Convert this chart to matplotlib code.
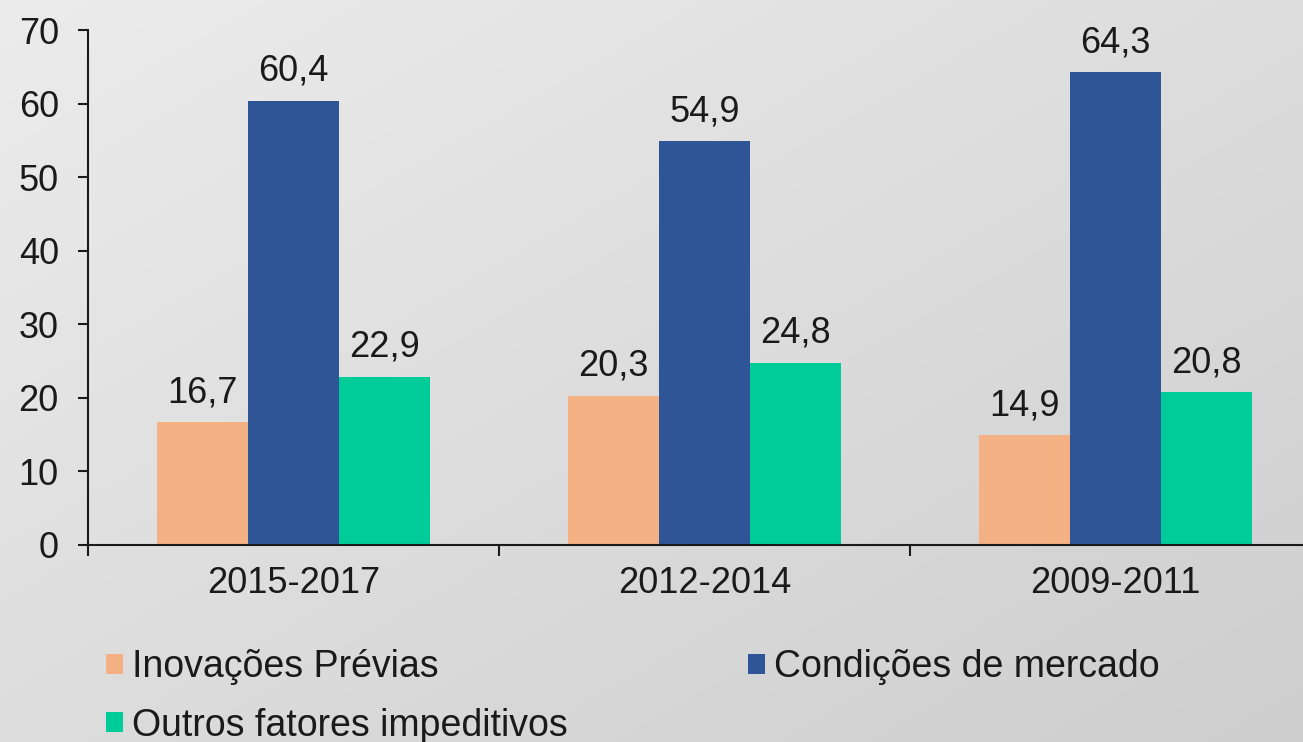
import numpy as np
import matplotlib.pyplot as plt
from matplotlib.patches import Patch
from matplotlib.colors import LinearSegmentedColormap

# data
periods = ['2015-2017', '2012-2014', '2009-2011']
series_names = ['Inovações Prévias', 'Condições de mercado', 'Outros fatores impeditivos']
inovacoes = [16.7, 20.3, 14.9]
condicoes = [60.4, 54.9, 64.3]
outros = [22.9, 24.8, 20.8]
y_ticks = [0, 10, 20, 30, 40, 50, 60, 70]

colors = ['#F4B183', '#2F5597', '#00CC99']
txt_color = '#1a1a1a'

plt.rcParams['font.family'] = ['Liberation Sans', 'DejaVu Sans']

fig = plt.figure(figsize=(13.03, 7.42), dpi=100)

# light grey diagonal gradient background
bg = fig.add_axes([0, 0, 1, 1], zorder=-10)
gx, gy = np.meshgrid(np.linspace(0, 1, 200), np.linspace(0, 1, 200))
grad = (gx + gy) / 2
grey_cmap = LinearSegmentedColormap.from_list('bg', ['#ececec', '#cecece'])
bg.imshow(grad, cmap=grey_cmap, vmin=0, vmax=1, extent=[0, 1, 0, 1],
          aspect='auto', origin='upper')
bg.axis('off')

ax = fig.add_axes([88 / 1303, 197 / 742, 3 * 411 / 1303, 515 / 742])
ax.set_facecolor('none')

x = np.arange(len(periods))
width = 0.222
all_series = [inovacoes, condicoes, outros]
for i, (vals, col) in enumerate(zip(all_series, colors)):
    bars = ax.bar(x + (i - 1) * width, vals, width, color=col, edgecolor='none', zorder=2)
    for b, v in zip(bars, vals):
        ax.annotate(f'{v:.1f}'.replace('.', ','),
                    (b.get_x() + b.get_width() / 2, v),
                    xytext=(0, 21), textcoords='offset points',
                    ha='center', va='center', fontsize=26, color=txt_color)

ax.set_xlim(-0.5, 2.5)
ax.set_ylim(0, 70)
ax.set_yticks(y_ticks)
ax.tick_params(axis='y', labelsize=26, length=7, width=1.5, pad=14, colors=txt_color)

# boundaries as major ticks, labels on minor ticks
ax.set_xticks([-0.5, 0.5, 1.5, 2.5])
ax.set_xticklabels([])
ax.set_xticks(x, minor=True)
ax.set_xticklabels(periods, minor=True)
ax.tick_params(axis='x', which='major', length=8, width=1.5, color=txt_color)
ax.tick_params(axis='x', which='minor', length=0, labelsize=26, pad=15, colors=txt_color)

for s in ['top', 'right']:
    ax.spines[s].set_visible(False)
for s in ['left', 'bottom']:
    ax.spines[s].set_linewidth(1.5)
    ax.spines[s].set_color(txt_color)

handles = [Patch(facecolor=c, edgecolor='none') for c in colors]
order = [0, 2, 1]
leg = fig.legend([handles[k] for k in order], [series_names[k] for k in order],
                 ncol=2, loc='upper left', bbox_to_anchor=(106 / 1303, 1 - 649 / 742),
                 frameon=False, fontsize=27, handlelength=0.45, handleheight=0.45,
                 handletextpad=0.25, columnspacing=4.8, labelspacing=0.6,
                 borderaxespad=0, borderpad=0)
for t in leg.get_texts():
    t.set_color(txt_color)

fig.savefig('out.png', dpi=100)
